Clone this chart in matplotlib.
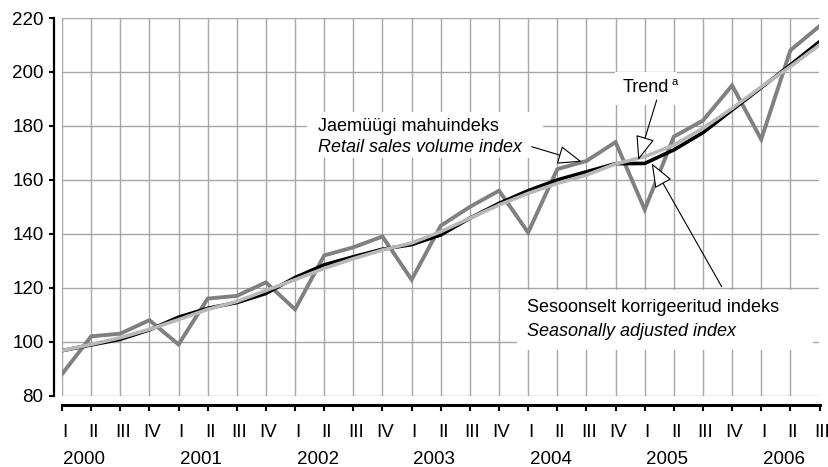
import matplotlib
matplotlib.use("Agg")
import matplotlib.pyplot as plt
import matplotlib.transforms as mtransforms
from matplotlib.patches import Rectangle

plt.rcParams['font.family'] = ['Liberation Sans', 'DejaVu Sans']

quarters = ["I", "II", "III", "IV"] * 6 + ["I", "II", "III"]
years = ["2000", "2001", "2002", "2003", "2004", "2005", "2006"]

raw = [88, 102, 103, 108, 99, 116, 117, 122, 112, 132, 135, 139,
       123, 143, 150, 156, 140.5, 164, 167, 174, 149, 176, 182, 195,
       175, 208, 217]
trend = [96.7, 98.8, 100.9, 104.4, 109.1, 112.4, 114.5, 117.9, 123.8, 128.5,
         131.5, 134.3, 136.0, 139.6, 145.8, 151.3, 156.0, 160.0, 163.0, 166.0,
         166.1, 171.1, 177.5, 185.9, 194.2, 202.6, 211.2]
sa = [96.7, 99.0, 101.5, 104.6, 108.2, 112.0, 114.9, 119.0, 123.0, 127.2,
      130.8, 134.0, 136.6, 140.8, 145.8, 150.7, 155.0, 158.7, 161.8, 165.9,
      168.6, 172.9, 179.1, 186.5, 194.5, 202.0, 210.0]

W, H = 829, 467
fig = plt.figure(figsize=(W / 100, H / 100), dpi=100)
left, right, top, bottom = 62, 819.5, 18, 395.7
ax = fig.add_axes([left / W, 1 - bottom / H, (right - left) / W, (bottom - top) / H])

x = list(range(len(raw)))
ax.set_xlim(0, len(raw) - 1)
ax.set_ylim(80, 220)

ax.set_axisbelow(True)
ax.grid(True, color='#a6a6a6', linewidth=1.0)
ax.set_yticks(range(80, 221, 20))
ax.set_xticks(x)

fs = 13

for s in ['top', 'right']:
    ax.spines[s].set_visible(False)
ax.spines['left'].set_position(('outward', 5.8))
ax.spines['bottom'].set_position(('outward', 6.7))
ax.spines['left'].set_linewidth(1.6)
ax.spines['bottom'].set_linewidth(2.2)
ax.tick_params(axis='y', length=3.5, width=1.5, labelsize=fs + 0.5, pad=4)
ax.tick_params(axis='x', length=4.5, width=1.5, labelsize=fs + 0.5, pad=9.5)
ax.set_xticklabels(quarters)
offset = mtransforms.ScaledTranslation(2.5 / 100, 0, fig.dpi_scale_trans)
for lab in ax.get_xticklabels():
    lab.set_transform(lab.get_transform() + offset)

# year labels
tr = mtransforms.blended_transform_factory(ax.transData, fig.transFigure)
for i, yr in enumerate(years):
    ax.text(i * 4 + 0.05, 1 - 459 / H, yr, transform=tr, ha='left', va='center',
            fontsize=fs + 0.5, clip_on=False)

# series
ax.plot(x, raw, color='#808080', linewidth=2.8, zorder=3, solid_joinstyle='miter')
ax.plot(x, trend, color='black', linewidth=2.6, zorder=4)
ax.plot(x, sa, color='#b8b8b8', linewidth=2.6, zorder=5)

# white boxes behind labels
def box(x0, x1, y0, y1):
    ax.add_patch(Rectangle((x0, y0), x1 - x0, y1 - y0, facecolor='white',
                           edgecolor='none', zorder=1))

def px2x(p):
    return (p - left) / ((right - left) / (len(raw) - 1))

def py2y(p):
    return 220 - (p - top) / ((bottom - top) / 140)

box(px2x(307), px2x(543), py2y(158), py2y(112))
box(px2x(615), px2x(677), py2y(105), py2y(72))
box(px2x(517), px2x(813), py2y(350), py2y(290))

ax.text(px2x(318), py2y(126), "Jaemüügi mahuindeks", fontsize=fs, va='center', zorder=6)
ax.text(px2x(318), py2y(148), "Retail sales volume index", fontsize=fs, style='italic',
        va='center', zorder=6)
ax.text(px2x(623), py2y(87), "Trend", fontsize=fs, va='center', zorder=6)
ax.text(px2x(671), py2y(82), "a", fontsize=8, va='center', zorder=6)
ax.text(px2x(527), py2y(308), "Sesoonselt korrigeeritud indeks", fontsize=fs,
        va='center', zorder=6)
ax.text(px2x(527), py2y(331.5), "Seasonally adjusted index", fontsize=fs,
        style='italic', va='center', zorder=6)

ap = dict(arrowstyle='-|>,head_length=0.9,head_width=0.35', fc='white', ec='black',
          lw=0.8, shrinkA=0, shrinkB=0, mutation_scale=17)
ax.annotate('', xy=(px2x(581.7), py2y(161.7)), xytext=(px2x(531.7), py2y(146.7)),
            arrowprops=ap, zorder=7)
ax.annotate('', xy=(px2x(638.3), py2y(160)), xytext=(px2x(656.7), py2y(100)),
            arrowprops=ap, zorder=7)
ax.annotate('', xy=(px2x(651.7), py2y(163.3)), xytext=(px2x(721.7), py2y(286.7)),
            arrowprops=ap, zorder=7)

fig.savefig("out.png", dpi=100)
